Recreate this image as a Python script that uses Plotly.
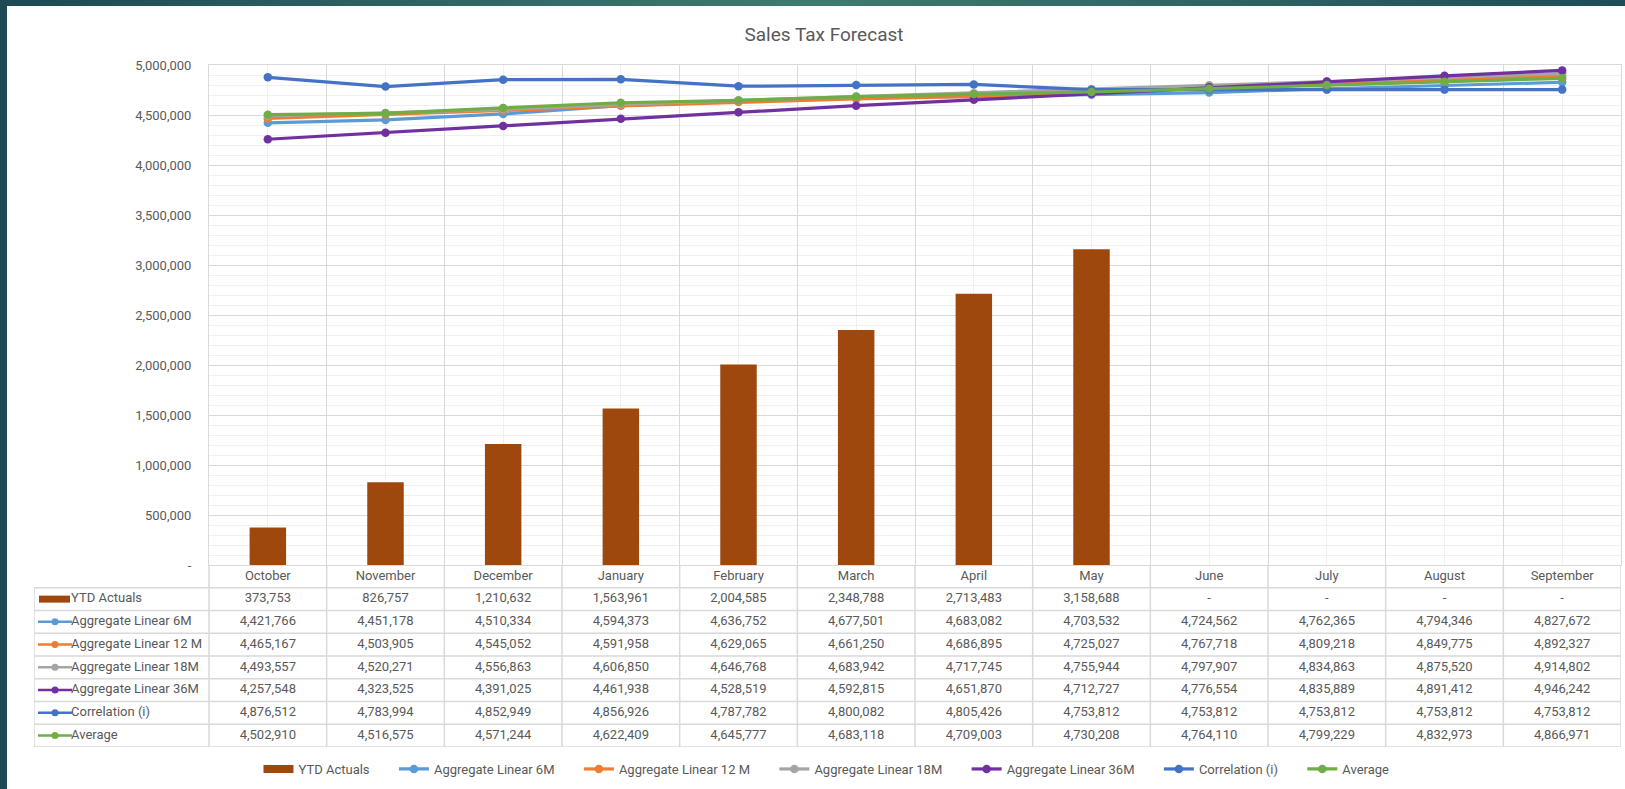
import base64
import plotly.graph_objects as go

# ---------------- data ----------------
months = ["October", "November", "December", "January", "February", "March",
          "April", "May", "June", "July", "August", "September"]

ytd_actuals = [373753, 826757, 1210632, 1563961, 2004585, 2348788, 2713483, 3158688,
               None, None, None, None]
agg_linear_6m = [4421766, 4451178, 4510334, 4594373, 4636752, 4677501, 4683082, 4703532,
                 4724562, 4762365, 4794346, 4827672]
agg_linear_12m = [4465167, 4503905, 4545052, 4591958, 4629065, 4661250, 4686895, 4725027,
                  4767718, 4809218, 4849775, 4892327]
agg_linear_18m = [4493557, 4520271, 4556863, 4606850, 4646768, 4683942, 4717745, 4755944,
                  4797907, 4834863, 4875520, 4914802]
agg_linear_36m = [4257548, 4323525, 4391025, 4461938, 4528519, 4592815, 4651870, 4712727,
                  4776554, 4835889, 4891412, 4946242]
correlation_i = [4876512, 4783994, 4852949, 4856926, 4787782, 4800082, 4805426, 4753812,
                 4753812, 4753812, 4753812, 4753812]
average = [4502910, 4516575, 4571244, 4622409, 4645777, 4683118, 4709003, 4730208,
           4764110, 4799229, 4832973, 4866971]

y_tick_values = [0, 500000, 1000000, 1500000, 2000000, 2500000, 3000000, 3500000,
                 4000000, 4500000, 5000000]
y_tick_labels = ["-", "500,000", "1,000,000", "1,500,000", "2,000,000", "2,500,000",
                 "3,000,000", "3,500,000", "4,000,000", "4,500,000", "5,000,000"]

line_series = [
    ("Aggregate Linear 6M", agg_linear_6m, "#5B9BD5"),
    ("Aggregate Linear 12 M", agg_linear_12m, "#ED7D31"),
    ("Aggregate Linear 18M", agg_linear_18m, "#A5A5A5"),
    ("Aggregate Linear 36M", agg_linear_36m, "#7030A0"),
    ("Correlation (i)", correlation_i, "#4472C4"),
    ("Average", average, "#70AD47"),
]
bar_name = "YTD Actuals"
bar_color = "#9E480E"

# ---------------- layout constants (pixels) ----------------
W, H = 1625, 789
PL, PR, PT, PB = 209, 1621, 65, 565     # plot area
TL, TB = 34, 747                         # table left / bottom
FONT = "Roboto, Lato, sans-serif"
TXT = "#595959"
GRID = "#D9D9D9"
MINOR = "#F0F0F0"
LEGEND_PAD = "\u00a0" * 6                # extra spacing between legend entries

n = len(months)
idx = list(range(n))
cat_w = (PR - PL) / n
x_left = -0.5 - (PL - TL) / cat_w
n_rows = 1 + 1 + len(line_series)


def pxu(d):
    return d / cat_w


def fmt(v):
    return "-" if v is None else f"{v:,}"


fig = go.Figure()

# ---------------- chart ----------------
fig.add_trace(go.Bar(x=idx, y=ytd_actuals, name=bar_name, marker_color=bar_color,
                     width=0.31, showlegend=False, hoverinfo="skip"))
# legend key for the bar series (wide rectangle like the original)
fig.add_trace(go.Scatter(x=[None], y=[None], mode="lines", name=bar_name + LEGEND_PAD,
                         line=dict(color=bar_color, width=8)))
for name, vals, col in line_series:
    fig.add_trace(go.Scatter(x=idx, y=vals, name=name + LEGEND_PAD, mode="lines+markers",
                             line=dict(color=col, width=3.2),
                             marker=dict(color=col, size=8.5), hoverinfo="skip"))

# ---------------- data table (second axis pair) ----------------
bx, by = [], []
bx += [-0.5, n - 0.5, None]
by += [0, 0, None]
for r in range(1, n_rows + 1):
    bx += [x_left, n - 0.5, None]
    by += [r, r, None]
bx += [x_left, x_left, None]
by += [1, n_rows, None]
for k in range(n + 1):
    bx += [k - 0.5, k - 0.5, None]
    by += [0, n_rows, None]
fig.add_trace(go.Scatter(x=bx, y=by, mode="lines", line=dict(color=GRID, width=1.5),
                         xaxis="x2", yaxis="y2", showlegend=False, hoverinfo="skip",
                         cliponaxis=False))

# header: months
fig.add_trace(go.Scatter(x=idx, y=[0.5] * n, mode="text", text=months,
                         textfont=dict(family=FONT, size=13, color=TXT),
                         xaxis="x2", yaxis="y2", showlegend=False, hoverinfo="skip"))

rows = [(bar_name, ytd_actuals, bar_color)] + line_series
for r, (name, vals, col) in enumerate(rows, start=1):
    yc = r + 0.5
    fig.add_trace(go.Scatter(x=idx, y=[yc] * n, mode="text", text=[fmt(v) for v in vals],
                             textfont=dict(family=FONT, size=13, color=TXT),
                             xaxis="x2", yaxis="y2", showlegend=False, hoverinfo="skip"))
    fig.add_trace(go.Scatter(x=[x_left + pxu(37)], y=[yc], mode="text", text=[name],
                             textposition="middle right",
                             textfont=dict(family=FONT, size=13, color=TXT),
                             xaxis="x2", yaxis="y2", showlegend=False, hoverinfo="skip"))
    if r == 1:
        fig.add_trace(go.Scatter(x=[x_left + pxu(5), x_left + pxu(36)], y=[yc, yc],
                                 mode="lines", line=dict(color=col, width=7),
                                 xaxis="x2", yaxis="y2", showlegend=False, hoverinfo="skip"))
    else:
        fig.add_trace(go.Scatter(x=[x_left + pxu(4), x_left + pxu(38)], y=[yc, yc],
                                 mode="lines", line=dict(color=col, width=2.5),
                                 xaxis="x2", yaxis="y2", showlegend=False, hoverinfo="skip"))
        fig.add_trace(go.Scatter(x=[x_left + pxu(21)], y=[yc], mode="markers",
                                 marker=dict(color=col, size=7),
                                 xaxis="x2", yaxis="y2", showlegend=False, hoverinfo="skip"))

# ---------------- background frame ----------------
svg = ("<svg xmlns='http://www.w3.org/2000/svg' width='1625' height='789' "
       "preserveAspectRatio='none'><defs><linearGradient id='g' x1='0' x2='1' y1='0' y2='0'>"
       "<stop offset='0' stop-color='#1D4A55'/><stop offset='0.5' stop-color='#3E7B6F'/>"
       "<stop offset='1' stop-color='#1E4D58'/></linearGradient></defs>"
       "<rect width='1625' height='789' fill='url(#g)'/></svg>")
src = "data:image/svg+xml;base64," + base64.b64encode(svg.encode()).decode()

fig.update_layout(
    template="none",
    width=W, height=H, autosize=False,
    margin=dict(l=0, r=0, t=0, b=0, pad=0, autoexpand=False),
    paper_bgcolor="#23535D", plot_bgcolor="rgba(0,0,0,0)",
    font=dict(family=FONT, size=13, color=TXT),
    images=[dict(source=src, xref="paper", yref="paper", x=0, y=1, sizex=1, sizey=1,
                 xanchor="left", yanchor="top", sizing="stretch", layer="below")],
    shapes=[dict(type="rect", xref="paper", yref="paper", x0=7 / W, x1=1, y0=0,
                 y1=1 - 6 / H, fillcolor="white", line_width=0, layer="below")],
    title=dict(text="Sales Tax Forecast", x=824 / W, xanchor="center", xref="paper",
               y=1 - 34 / H, yanchor="middle", yref="paper",
               font=dict(family=FONT, size=19, color=TXT)),
    showlegend=True,
    legend=dict(orientation="h", x=836 / W, xanchor="center", y=1 - 769 / H,
                yanchor="middle", font=dict(family=FONT, size=13, color=TXT),
                bgcolor="rgba(0,0,0,0)"),
    xaxis=dict(domain=[PL / W, PR / W], range=[-0.5, n - 0.5], showticklabels=False,
               tickmode="array", tickvals=[k - 0.5 for k in range(n + 1)], ticks="",
               showgrid=True, gridcolor=GRID, gridwidth=1, zeroline=False,
               showline=True, mirror=True, linecolor=GRID, linewidth=1,
               minor=dict(tickmode="array", tickvals=idx, showgrid=True, ticks="",
                          gridcolor=MINOR, gridwidth=1),
               automargin=False, fixedrange=True),
    yaxis=dict(domain=[1 - PB / H, 1 - PT / H], range=[0, 5000000],
               tickmode="array", tickvals=y_tick_values, ticktext=y_tick_labels,
               ticks="", ticklabelstandoff=14,
               tickfont=dict(family=FONT, size=13, color=TXT),
               showgrid=True, gridcolor=GRID, gridwidth=1, zeroline=False,
               showline=True, mirror=True, linecolor=GRID, linewidth=1,
               minor=dict(dtick=100000, showgrid=True, gridcolor=MINOR, gridwidth=1,
                          ticks=""),
               automargin=False, fixedrange=True),
    xaxis2=dict(domain=[TL / W, PR / W], range=[x_left, n - 0.5], visible=False,
                automargin=False, fixedrange=True),
    yaxis2=dict(domain=[1 - TB / H, 1 - PB / H], range=[n_rows, 0], visible=False,
                automargin=False, fixedrange=True),
)

fig.write_html("out.html", config={"displayModeBar": False},
               post_script="document.body.style.margin='0';"
                           "document.body.style.overflow='hidden';")
